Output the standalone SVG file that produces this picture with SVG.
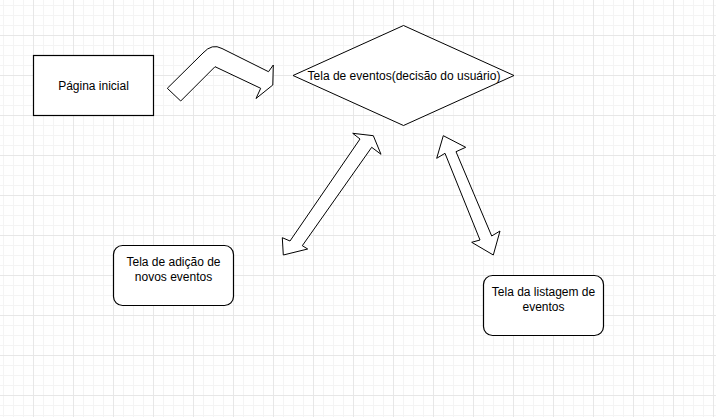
<svg xmlns="http://www.w3.org/2000/svg" width="716" height="417" viewBox="0 0 716 417">
  <defs>
    <pattern id="minor" patternUnits="userSpaceOnUse" x="3" y="5" width="10" height="10">
      <path d="M0.5 0V10M0 0.5H10" stroke="#f4f4f4" stroke-width="1" fill="none"/>
    </pattern>
    <pattern id="major" patternUnits="userSpaceOnUse" x="33" y="35" width="40" height="40">
      <path d="M0.5 0V40M0 0.5H40" stroke="#e7e7e7" stroke-width="1" fill="none"/>
    </pattern>
    <style>
      .shape { fill: #ffffff; stroke: #000000; stroke-width: 1; }
      .box { fill: #ffffff; stroke: #000000; stroke-width: 1.2; }
      .label { font-family: "Liberation Sans", Arial, sans-serif; font-size: 12px; fill: #000000; text-anchor: middle; }
    </style>
  </defs>

  <rect width="716" height="417" fill="#ffffff"/>
  <rect width="716" height="417" fill="url(#minor)"/>
  <rect width="716" height="417" fill="url(#major)"/>

  <g id="connectors">
    <path id="bent-arrow" class="shape" stroke-linejoin="miter" d="M167.3 88.3 L203 53 Q212 43 222 48.5 L268.5 71.7 L273.3 65 L272.8 85 L256 98.5 L260.7 88.3 L215 66.7 L180.7 101 Z"/>
    <path id="double-arrow-left" class="shape" d="M373.3 135.7 L381 154.3 L371.7 147.3 L302.3 245.7 L307.7 249 L283.3 255 L282.3 237.7 L290 241 L360 139 L352.7 133.3 Z"/>
    <path id="double-arrow-right" class="shape" d="M443.3 135.7 L465.7 147.3 L456 151.7 L491.7 236 L500 231 L493.3 255 L471.7 242.3 L480 240 L445 153.3 L436.7 158.3 Z"/>
  </g>

  <g id="node-pagina-inicial">
    <rect class="box" x="33.5" y="55.5" width="120" height="60"/>
    <text class="label" x="93.5" y="89.5">Página inicial</text>
  </g>

  <g id="node-tela-eventos">
    <polygon class="shape" points="403.5,25.5 514,75.5 403.5,125.5 293,75.5"/>
    <text class="label" x="404" y="79.5">Tela de eventos(decisão do usuário)</text>
  </g>

  <g id="node-adicao">
    <rect class="box" x="113.5" y="245.5" width="120" height="60" rx="9" ry="9"/>
    <text class="label" x="173.5" y="266">Tela de adição de</text>
    <text class="label" x="173.5" y="280.5">novos eventos</text>
  </g>

  <g id="node-listagem">
    <rect class="box" x="483.5" y="275.5" width="120" height="60" rx="9" ry="9"/>
    <text class="label" x="543.5" y="296">Tela da listagem de</text>
    <text class="label" x="543.5" y="310.5">eventos</text>
  </g>
</svg>
